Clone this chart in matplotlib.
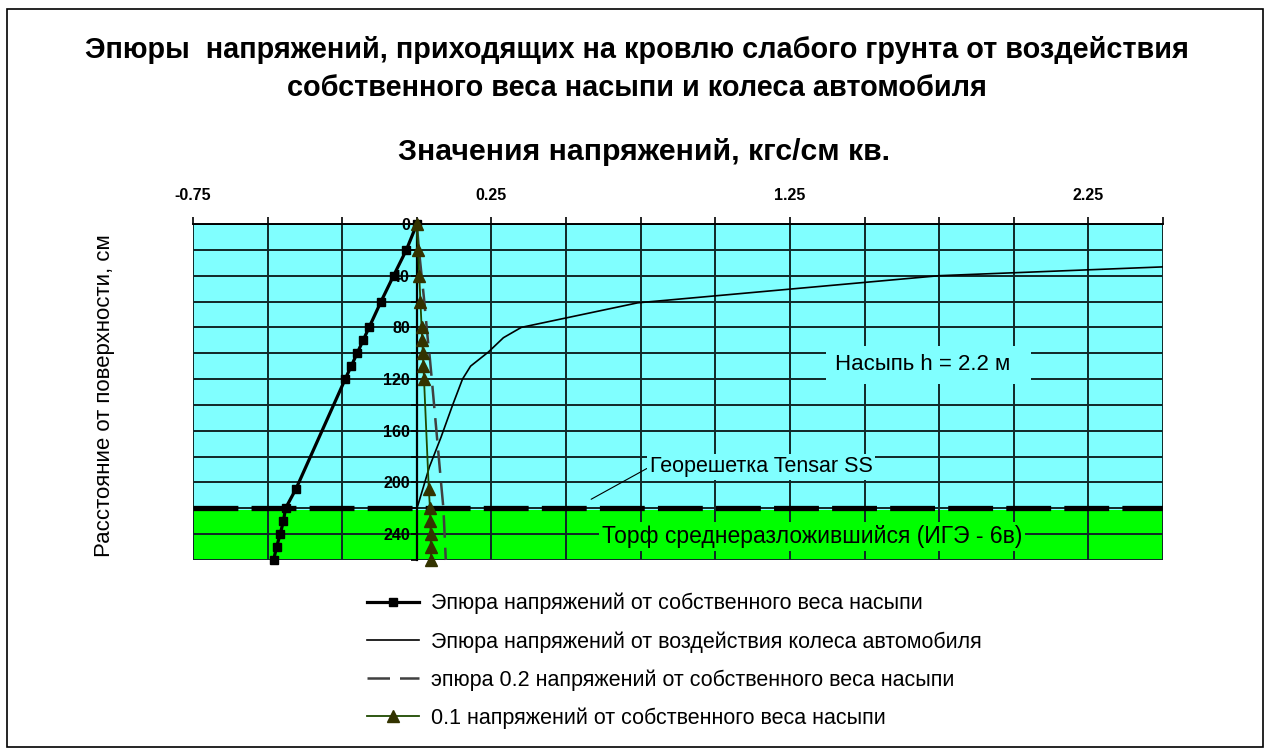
import numpy as np
import matplotlib
matplotlib.use("Agg")
import matplotlib.pyplot as plt
from matplotlib.patches import Rectangle

plt.rcParams['font.family'] = ['Liberation Sans', 'DejaVu Sans']

# depth below the surface, cm
depth_fill = [0, 20, 40, 60, 80, 90, 100, 110, 120, 205, 220, 230, 240, 250, 260]
# stress from the embankment's own weight (plotted to the left), kgf/cm2
stress_fill = [0, -0.035, -0.078, -0.12, -0.16, -0.18, -0.20, -0.22, -0.24,
               -0.405, -0.44, -0.447, -0.458, -0.47, -0.48]
# 0.2 of the self-weight stress
stress_02 = [0, 0.007, 0.016, 0.025, 0.033, 0.037, 0.042, 0.046, 0.05,
             0.083, 0.089, 0.091, 0.093, 0.095, 0.097]
# 0.1 of the self-weight stress
stress_01 = [0, 0.004, 0.008, 0.012, 0.016, 0.018, 0.02, 0.022, 0.024,
             0.04, 0.044, 0.045, 0.046, 0.047, 0.048]

# stress from the vehicle wheel
depth_wheel = [30, 40, 61, 80, 88, 99, 110, 120, 140, 165, 188, 205, 218]
stress_wheel = [2.85, 1.75, 0.74, 0.35, 0.29, 0.24, 0.18, 0.153, 0.12,
                0.081, 0.042, 0.02, 0.003]

fill_height = 220   # embankment h = 2.2 m
depth_max = 260

x_ticks = np.arange(-0.75, 2.51, 0.25)
x_labels = ['-0.75', '0.25', '1.25', '2.25']
y_ticks = np.arange(0, 261, 20)

labels = ['Эпюра напряжений от собственного веса насыпи',
          'Эпюра напряжений от воздействия колеса автомобиля',
          'эпюра 0.2 напряжений от собственного веса насыпи',
          '0.1 напряжений от собственного веса насыпи']

W, H = 1271, 756
fig = plt.figure(figsize=(W / 100, H / 100), dpi=100)
ax = fig.add_axes([193 / W, 1 - 560 / H, (1163 - 193) / W, (560 - 224) / H])

cyan = '#80FFFF'
green = '#00FF00'
ax.set_facecolor(cyan)
ax.axhspan(fill_height + 1.5, depth_max, color=green, zorder=0, lw=0)

ax.set_xlim(-0.75, 2.5)
ax.set_ylim(depth_max, 0)
ax.set_axisbelow(True)

# top x axis, labels on every fourth gridline
ax.xaxis.tick_top()
ax.set_xticks(x_ticks)
lab = []
for t in x_ticks:
    s = f'{t:.2f}'
    lab.append(s if s in x_labels else '')
ax.set_xticklabels(lab, fontsize=11.5, fontweight='bold')
ax.tick_params(axis='x', direction='out', length=5, width=1.2, pad=10)

# y axis sits at zero stress
ax.spines['left'].set_position(('data', 0))
ax.spines['left'].set_linewidth(1.6)
ax.set_yticks(y_ticks)
ax.set_yticklabels([str(t) if t % 40 == 0 else '' for t in y_ticks],
                   fontsize=11.5, fontweight='bold')
ax.tick_params(axis='y', direction='out', length=4, width=1.2, pad=1)
for s in ['right', 'bottom']:
    ax.spines[s].set_visible(False)
ax.spines['top'].set_linewidth(1.4)

ax.grid(True, color='#102828', lw=1.4)

# geogrid at the bottom of the embankment
ax.axhline(fill_height, color='black', lw=3.8, dashes=(8.5, 2.5), zorder=2)

l1, = ax.plot(stress_fill, depth_fill, color='black', lw=2.3, marker='s',
              markersize=5.5, zorder=5, clip_on=False)
l2, = ax.plot(stress_wheel, depth_wheel, color='black', lw=1.2, zorder=4)
l3, = ax.plot(stress_02, depth_fill, color='#404040', lw=1.8, dashes=(9, 4),
              zorder=3, clip_on=False)
l4, = ax.plot(stress_01, depth_fill, color='#1E4A00', lw=1.3, marker='^',
              markersize=8.5, markerfacecolor='#333300',
              markeredgecolor='#333300', zorder=6, clip_on=False)

ax.text(1.40, 109, 'Насыпь h = 2.2 м  ', fontsize=16, va='center', ha='left',
        zorder=7, bbox=dict(facecolor=cyan, edgecolor='none', pad=6))
ax.annotate('Георешетка Tensar SS', xy=(0.584, 213), xytext=(0.78, 188),
            fontsize=15.5, va='center', ha='left', zorder=7,
            bbox=dict(facecolor=cyan, edgecolor='none', pad=2),
            arrowprops=dict(arrowstyle='-', color='black', lw=0.8,
                            shrinkA=0, shrinkB=0, relpos=(0, 0.5)))
ax.text(0.62, 242, 'Торф среднеразложившийся (ИГЭ - 6в)', fontsize=16.5,
        va='center', ha='left', zorder=7,
        bbox=dict(facecolor=green, edgecolor='none', pad=2))

fig.text(637 / W, 1 - 50 / H,
         'Эпюры  напряжений, приходящих на кровлю слабого грунта от воздействия',
         ha='center', va='center', fontsize=20.8, fontweight='bold')
fig.text(637 / W, 1 - 88 / H, 'собственного веса насыпи и колеса автомобиля',
         ha='center', va='center', fontsize=20.8, fontweight='bold')
fig.text(644 / W, 1 - 152 / H, 'Значения напряжений, кгс/см кв.',
         ha='center', va='center', fontsize=21.8, fontweight='bold')
fig.text(105 / W, 1 - 396 / H, 'Расстояние от поверхности, см',
         ha='center', va='center', rotation=90, fontsize=16)

fig.legend([l1, l2, l3, l4], labels, loc='upper left',
           bbox_to_anchor=(367 / W, 1 - 593 / H), frameon=False, fontsize=15.5,
           handlelength=2.4, handletextpad=0.55, labelspacing=0.77,
           borderpad=0, borderaxespad=0)

fig.add_artist(Rectangle((7 / W, 1 - 747 / H), (1263 - 7) / W, (747 - 9) / H,
                         transform=fig.transFigure, fill=False,
                         edgecolor='black', lw=1.2))

fig.savefig('out.png', dpi=100)
